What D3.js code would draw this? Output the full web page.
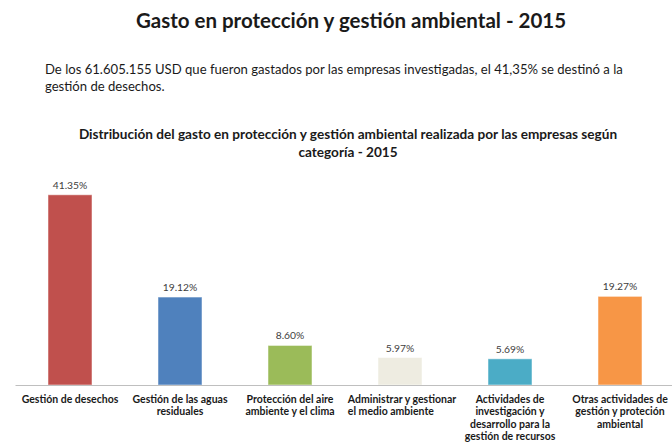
<!DOCTYPE html>
<html>
<head>
<meta charset="utf-8">
<script src="https://cdn.jsdelivr.net/npm/d3@7"></script>
<style>
  body { margin: 0; background: #fff; }
  text { font-family: Lato, "Open Sans", sans-serif; }
</style>
</head>
<body>
<div id="container"></div>
<script>
/* CONSTANTS AND GLOBALS */
const width = 672,
  height = 443

/* DATA */
const categories = [
  "Gestión de desechos",
  "Gestión de las aguas residuales",
  "Protección del aire ambiente y el clima",
  "Administrar y gestionar el medio ambiente",
  "Actividades de investigación y desarrollo para la gestión de recursos",
  "Otras actividades de gestión y proteción ambiental"
]
const values = [41.35, 19.12, 8.60, 5.97, 5.69, 19.27]
const labelLines = [
  ["Gestión de desechos"],
  ["Gestión de las aguas", "residuales"],
  ["Protección del aire", "ambiente y el clima"],
  ["Administrar y gestionar", "el medio ambiente"],
  ["Actividades de", "investigación y", "desarrollo para la", "gestión de recursos"],
  ["Otras actividades de", "gestión y proteción", "ambiental"]
]
const colors = ["#C0504D", "#4F81BD", "#9BBB59", "#EEECE1", "#4BACC6", "#F79646"]

const title = "Gasto en protección y gestión ambiental - 2015"
const intro = [
  "De los 61.605.155 USD que fueron gastados por las empresas investigadas, el 41,35% se destinó a la",
  "gestión de desechos."
]
const chartTitle = [
  "Distribución del gasto en protección y gestión ambiental realizada por las empresas según",
  "categoría - 2015"
]

const svg = d3.select("#container")
  .append("svg")
  .attr("width", width)
  .attr("height", height)

svg.append("rect").attr("width", width).attr("height", height).attr("fill", "#fff")

// page heading
svg.append("text")
  .attr("x", 351)
  .attr("y", 28)
  .attr("text-anchor", "middle")
  .attr("font-size", 20.5)
  .attr("font-weight", "bold")
  .attr("fill", "#1a1a1a")
  .text(title)

svg.selectAll("text.intro")
  .data(intro)
  .join("text")
  .attr("class", "intro")
  .attr("x", 45)
  .attr("y", (d, i) => 74 + i * 17)
  .attr("font-size", 13.1)
  .attr("fill", "#1a1a1a")
  .text(d => d)

svg.selectAll("text.ctitle")
  .data(chartTitle)
  .join("text")
  .attr("class", "ctitle")
  .attr("x", 348)
  .attr("y", (d, i) => 139 + i * 18)
  .attr("text-anchor", "middle")
  .attr("font-size", 13.6)
  .attr("font-weight", "bold")
  .attr("fill", "#1a1a1a")
  .text(d => d)

/* SCALES */
const xScale = d3.scaleBand()
  .domain(categories)
  .range([15, 675])
  .paddingInner(0.6)
  .paddingOuter(0.3)

const yScale = d3.scaleLinear()
  .domain([0, 45])
  .range([385, 178])

// bars
svg.selectAll("rect.bar")
  .data(values)
  .join("rect")
  .attr("class", "bar")
  .attr("x", (d, i) => xScale(categories[i]))
  .attr("y", d => yScale(d))
  .attr("width", xScale.bandwidth())
  .attr("height", d => yScale(0) - yScale(d))
  .attr("fill", (d, i) => colors[i])
  .attr("stroke", "#ffffff")
  .attr("stroke-opacity", 0.5)

// value labels
svg.selectAll("text.val")
  .data(values)
  .join("text")
  .attr("class", "val")
  .attr("x", (d, i) => xScale(categories[i]) + xScale.bandwidth() / 2)
  .attr("y", d => yScale(d) - 6)
  .attr("text-anchor", "middle")
  .attr("font-size", 10.3)
  .attr("fill", "#404040")
  .text(d => d.toFixed(2) + "%")

// x axis
const xAxis = svg.append("g")
  .attr("transform", `translate(0,${yScale(0)})`)
  .call(d3.axisBottom(xScale).tickSize(0).tickSizeOuter(0))

xAxis.select(".domain").attr("stroke", "#bfbfbf").attr("stroke-width", 1.2)

xAxis.selectAll(".tick text").each(function (d, i) {
  const t = d3.select(this)
  const lines = labelLines[i]
  t.text(null)
    .attr("y", 0)
    .attr("dy", null)
    .attr("font-size", 10.5)
    .attr("font-weight", "bold")
    .attr("fill", "#1a1a1a")
    .attr("font-family", "Lato, sans-serif")
  lines.forEach((line, j) => {
    t.append("tspan")
      .attr("x", 0)
      .attr("y", 18 + j * 12.4)
      .text(line)
  })
  // "Administrar..." is left aligned under its first line
  if (i === 3) {
    const w = t.select("tspan").node().getComputedTextLength()
    t.attr("text-anchor", "start")
    t.selectAll("tspan").attr("x", -w / 2 + 2)
  }
})
</script>
</body>
</html>
